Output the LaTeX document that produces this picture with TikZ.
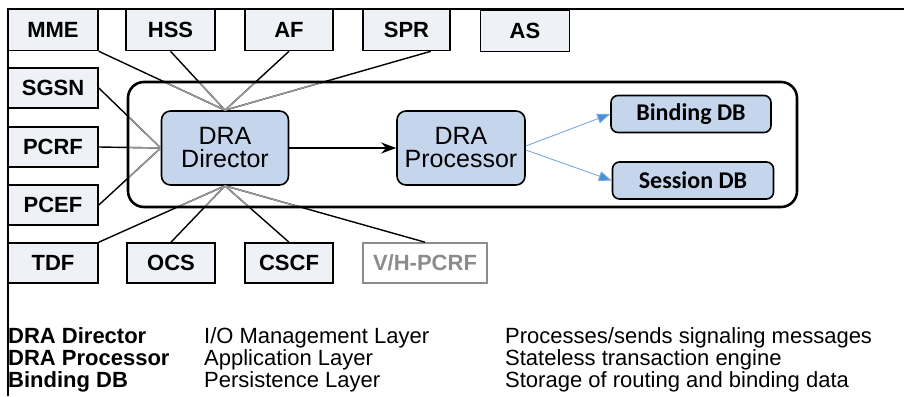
\documentclass[tikz,border=0pt]{standalone}
\usepackage{fontspec}
\setmainfont{Liberation Sans}
\newfontfamily\dbfont{Carlito}
\usetikzlibrary{arrows.meta}
\definecolor{boxfill}{HTML}{EEF2F7}
\definecolor{drafill}{HTML}{C5D6EC}
\definecolor{dbblue}{HTML}{4A8FD6}
\tikzstyle{elem} = [draw, line width=1.6pt, fill=boxfill, minimum height=41pt, inner sep=0pt, font=\fontsize{22}{24}\selectfont\bfseries]
\tikzstyle{dra} = [draw, line width=1.6pt, rounded corners=9pt, fill=drafill, minimum width=127pt, minimum height=74pt, align=center, font=\fontsize{25}{23}\selectfont]
\tikzstyle{db} = [draw, line width=1.6pt, rounded corners=7pt, fill=drafill, minimum height=37pt, inner sep=0pt, font=\dbfont\fontsize{24}{24}\selectfont\bfseries]
\tikzstyle{link} = [line width=1.4pt]
\tikzstyle{inlink} = [line width=1.4pt, black!40]
\tikzstyle{arrow} = [line width=1.4pt,-{Stealth[length=15pt,width=11pt]}]
\tikzstyle{dbarrow} = [line width=0.9pt, dbblue!75, -{Triangle[length=13pt,width=10pt,fill=dbblue]}]
\tikzstyle{legend} = [anchor=base west, inner sep=0pt, font=\fontsize{22}{24}\selectfont]

\begin{document}
\begin{tikzpicture}[x=1pt,y=-1pt]
        \useasboundingbox (0,0) rectangle (904,396);
        
        %frame
        \draw [line width=1.5pt] (8,396) -- (8,9) -- (904,9);
        
        %top row
        \node at (53,30) [elem, minimum width=90pt] (mme) {MME};
        \node at (170.5,30) [elem, minimum width=89pt] (hss) {HSS};
        \node at (289,30) [elem, minimum width=88pt] (af) {AF};
        \node at (406.5,30) [elem, minimum width=87pt] (spr) {SPR};
        \node at (525,31) [elem, minimum width=89pt] (as) {AS};
        
        %left column
        \node at (53,88) [elem, minimum width=90pt, minimum height=40pt] (sgsn) {SGSN};
        \node at (53,147) [elem, minimum width=90pt, minimum height=40pt] (pcrf) {PCRF};
        \node at (53,205) [elem, minimum width=90pt, minimum height=40pt] (pcef) {PCEF};
        
        %bottom row
        \node at (53,263) [elem, minimum width=90pt, minimum height=40pt] (tdf) {TDF};
        \node at (171,263) [elem, minimum width=88pt, minimum height=40pt] (ocs) {OCS};
        \node at (289,263) [elem, minimum width=88pt, minimum height=40pt] (cscf) {CSCF};
        \node at (425,263) [elem, minimum width=124pt, minimum height=40pt, draw=black!45, text=black!45, fill=white] (vh) {V/H-PCRF};
        
        %DRA
        \node at (225,148) [dra] (dir) {DRA\\Director};
        \node at (461,148) [dra, minimum width=128pt] (proc) {DRA\\Processor};
        \node at (691,114) [db, minimum width=160pt] (bind) {Binding DB};
        \node at (693,180.5) [db, minimum width=161pt] (sess) {Session DB};
        
        %core box corners
        \coordinate (coreNW) at (128,82);
        \coordinate (coreSE) at (797,207);
        \coordinate (sprout) at ([xshift=-20pt]spr.south east);
        
        %Links
        \foreach \a/\b in {mme.south east/dir.north, hss.south/dir.north, af.south/dir.north, sprout/dir.north,
                sgsn.east/dir.west, pcrf.east/dir.west, pcef.east/dir.west,
                tdf.north east/dir.south, ocs.north/dir.south, cscf.north/dir.south, vh.north/dir.south}
            \draw [link] (\a) -- (\b);
        \begin{scope}
            \clip [rounded corners=16pt] (coreNW) rectangle (coreSE);
            \foreach \a/\b in {mme.south east/dir.north, hss.south/dir.north, af.south/dir.north, sprout/dir.north,
                    sgsn.east/dir.west, pcrf.east/dir.west, pcef.east/dir.west,
                    tdf.north east/dir.south, ocs.north/dir.south, cscf.north/dir.south, vh.north/dir.south}
                \draw [inlink] (\a) -- (\b);
        \end{scope}
        \draw [line width=2.6pt, rounded corners=16pt] (coreNW) rectangle (coreSE);
        
        %Arrows
        \draw [arrow] (dir) -- (proc);
        \draw [dbarrow] ([yshift=2pt]proc.east) -- (bind.west);
        \draw [dbarrow] ([yshift=-2pt]proc.east) -- (sess.west);
        
        %legend
        \node at (8,343) [legend, font=\fontsize{22}{24}\selectfont\bfseries] (k1) {DRA Director};
        \node at (8,365) [legend, font=\fontsize{22}{24}\selectfont\bfseries] (k2) {DRA Processor};
        \node at (8,387) [legend, font=\fontsize{22}{24}\selectfont\bfseries] (k3) {Binding DB};
        \node at (204,343) [legend] (m1) {I/O Management Layer};
        \node at (204,365) [legend] (m2) {Application Layer};
        \node at (204,387) [legend] (m3) {Persistence Layer};
        \node at (505,343) [legend] (d1) {Processes/sends signaling messages};
        \node at (505,365) [legend] (d2) {Stateless transaction engine};
        \node at (505,387) [legend] (d3) {Storage of routing and binding data};
    
    \end{tikzpicture}
\end{document}
